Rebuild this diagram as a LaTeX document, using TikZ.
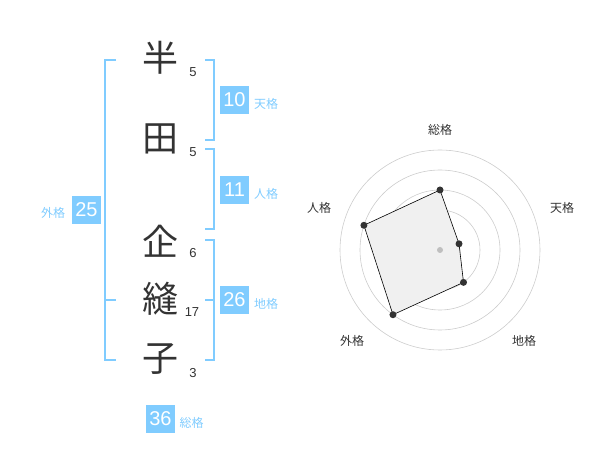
\documentclass[tikz,border=0pt]{standalone}
\usepackage{fontspec}
\setmainfont{Liberation Sans}
\newfontfamily\jpfont{Noto Sans CJK JP}
\definecolor{kakublue}{HTML}{80CCFF}
\definecolor{inkgrey}{HTML}{333333}
\begin{document}
\begin{tikzpicture}[x=1pt,y=-1pt,
    every node/.style={inner sep=0pt, align=center},
    kanji/.style={font=\jpfont\fontsize{36}{36}\selectfont, text=inkgrey},
    strokes/.style={font=\fontsize{13}{13}\selectfont, text=inkgrey},
    score box/.style={fill=kakublue, text=white, minimum width=29pt, minimum height=28pt, font=\fontsize{20}{20}\selectfont},
    kaku label/.style={font=\jpfont\fontsize{12}{12}\selectfont, text=kakublue},
    bracket line/.style={draw=kakublue, line width=1.6pt},
    ring/.style={draw=black!20, line width=0.6pt},
    radar label/.style={font=\jpfont\fontsize{12}{12}\selectfont, text=inkgrey},
    point/.style={circle, fill=inkgrey, minimum size=7pt},
    ]
\useasboundingbox (0,0) rectangle (600,470);
\node[kanji] (han) at (160,58) {半};
\node[kanji] (ta) at (160,139) {田};
\node[kanji] (ki) at (160,241) {企};
\node[kanji] (hou) at (160,299) {縫};
\node[kanji] (ko) at (160,359) {子};
\node[strokes] (hanN) at (193,72) {5};
\node[strokes] (taN) at (193,152) {5};
\node[strokes] (kiN) at (193,253) {6};
\node[strokes] (houN) at (192,312) {17};
\node[strokes] (koN) at (193,373) {3};
\draw[bracket line] (116,60) -| (105,360) -- (116,360);
\draw[bracket line] (105,300) -- (116,300);
\draw[bracket line] (205,60) -| (214,140) -- (205,140);
\draw[bracket line] (205,149) -| (214,229) -- (205,229);
\draw[bracket line] (205,240) -| (214,360) -- (205,360);
\draw[bracket line] (205,300) -- (214,300);
\node[score box] (tenS) at (234.5,100) {10};
\node[kaku label] (tenL) at (266,104) {天格};
\node[score box] (jinS) at (234.5,190) {11};
\node[kaku label] (jinL) at (266,194) {人格};
\node[score box] (chiS) at (234.5,300) {26};
\node[kaku label] (chiL) at (266,304) {地格};
\node[score box] (gaiS) at (86.5,210) {25};
\node[kaku label] (gaiL) at (53,213) {外格};
\node[score box] (souS) at (160.5,419) {36};
\node[kaku label] (souL) at (191.5,423) {総格};
\coordinate (O) at (440,250);
\foreach \r in {20,40,...,100}
    \draw[ring] (O) circle (\r pt);
\coordinate (sou) at ([shift={(-90:60)}]O);
\coordinate (ten) at ([shift={(-18:20)}]O);
\coordinate (chi) at ([shift={(54:40)}]O);
\coordinate (gai) at ([shift={(126:80)}]O);
\coordinate (jin) at ([shift={(198:80)}]O);
\draw[fill=black!6, line width=0.6pt] (sou) -- (ten) -- (chi) -- (gai) -- (jin) -- cycle;
\node[circle, fill=black!25, minimum size=6pt] (mid) at (O) {};
\foreach \p in {sou,ten,chi,gai,jin}
    \node[point] (\p P) at (\p) {};
\node[radar label] (souR) at (440,130) {総格};
\node[radar label] (tenR) at (562,208) {天格};
\node[radar label] (chiR) at (524,341) {地格};
\node[radar label] (gaiR) at (352,341) {外格};
\node[radar label] (jinR) at (319,208) {人格};
\end{tikzpicture}
\end{document}
